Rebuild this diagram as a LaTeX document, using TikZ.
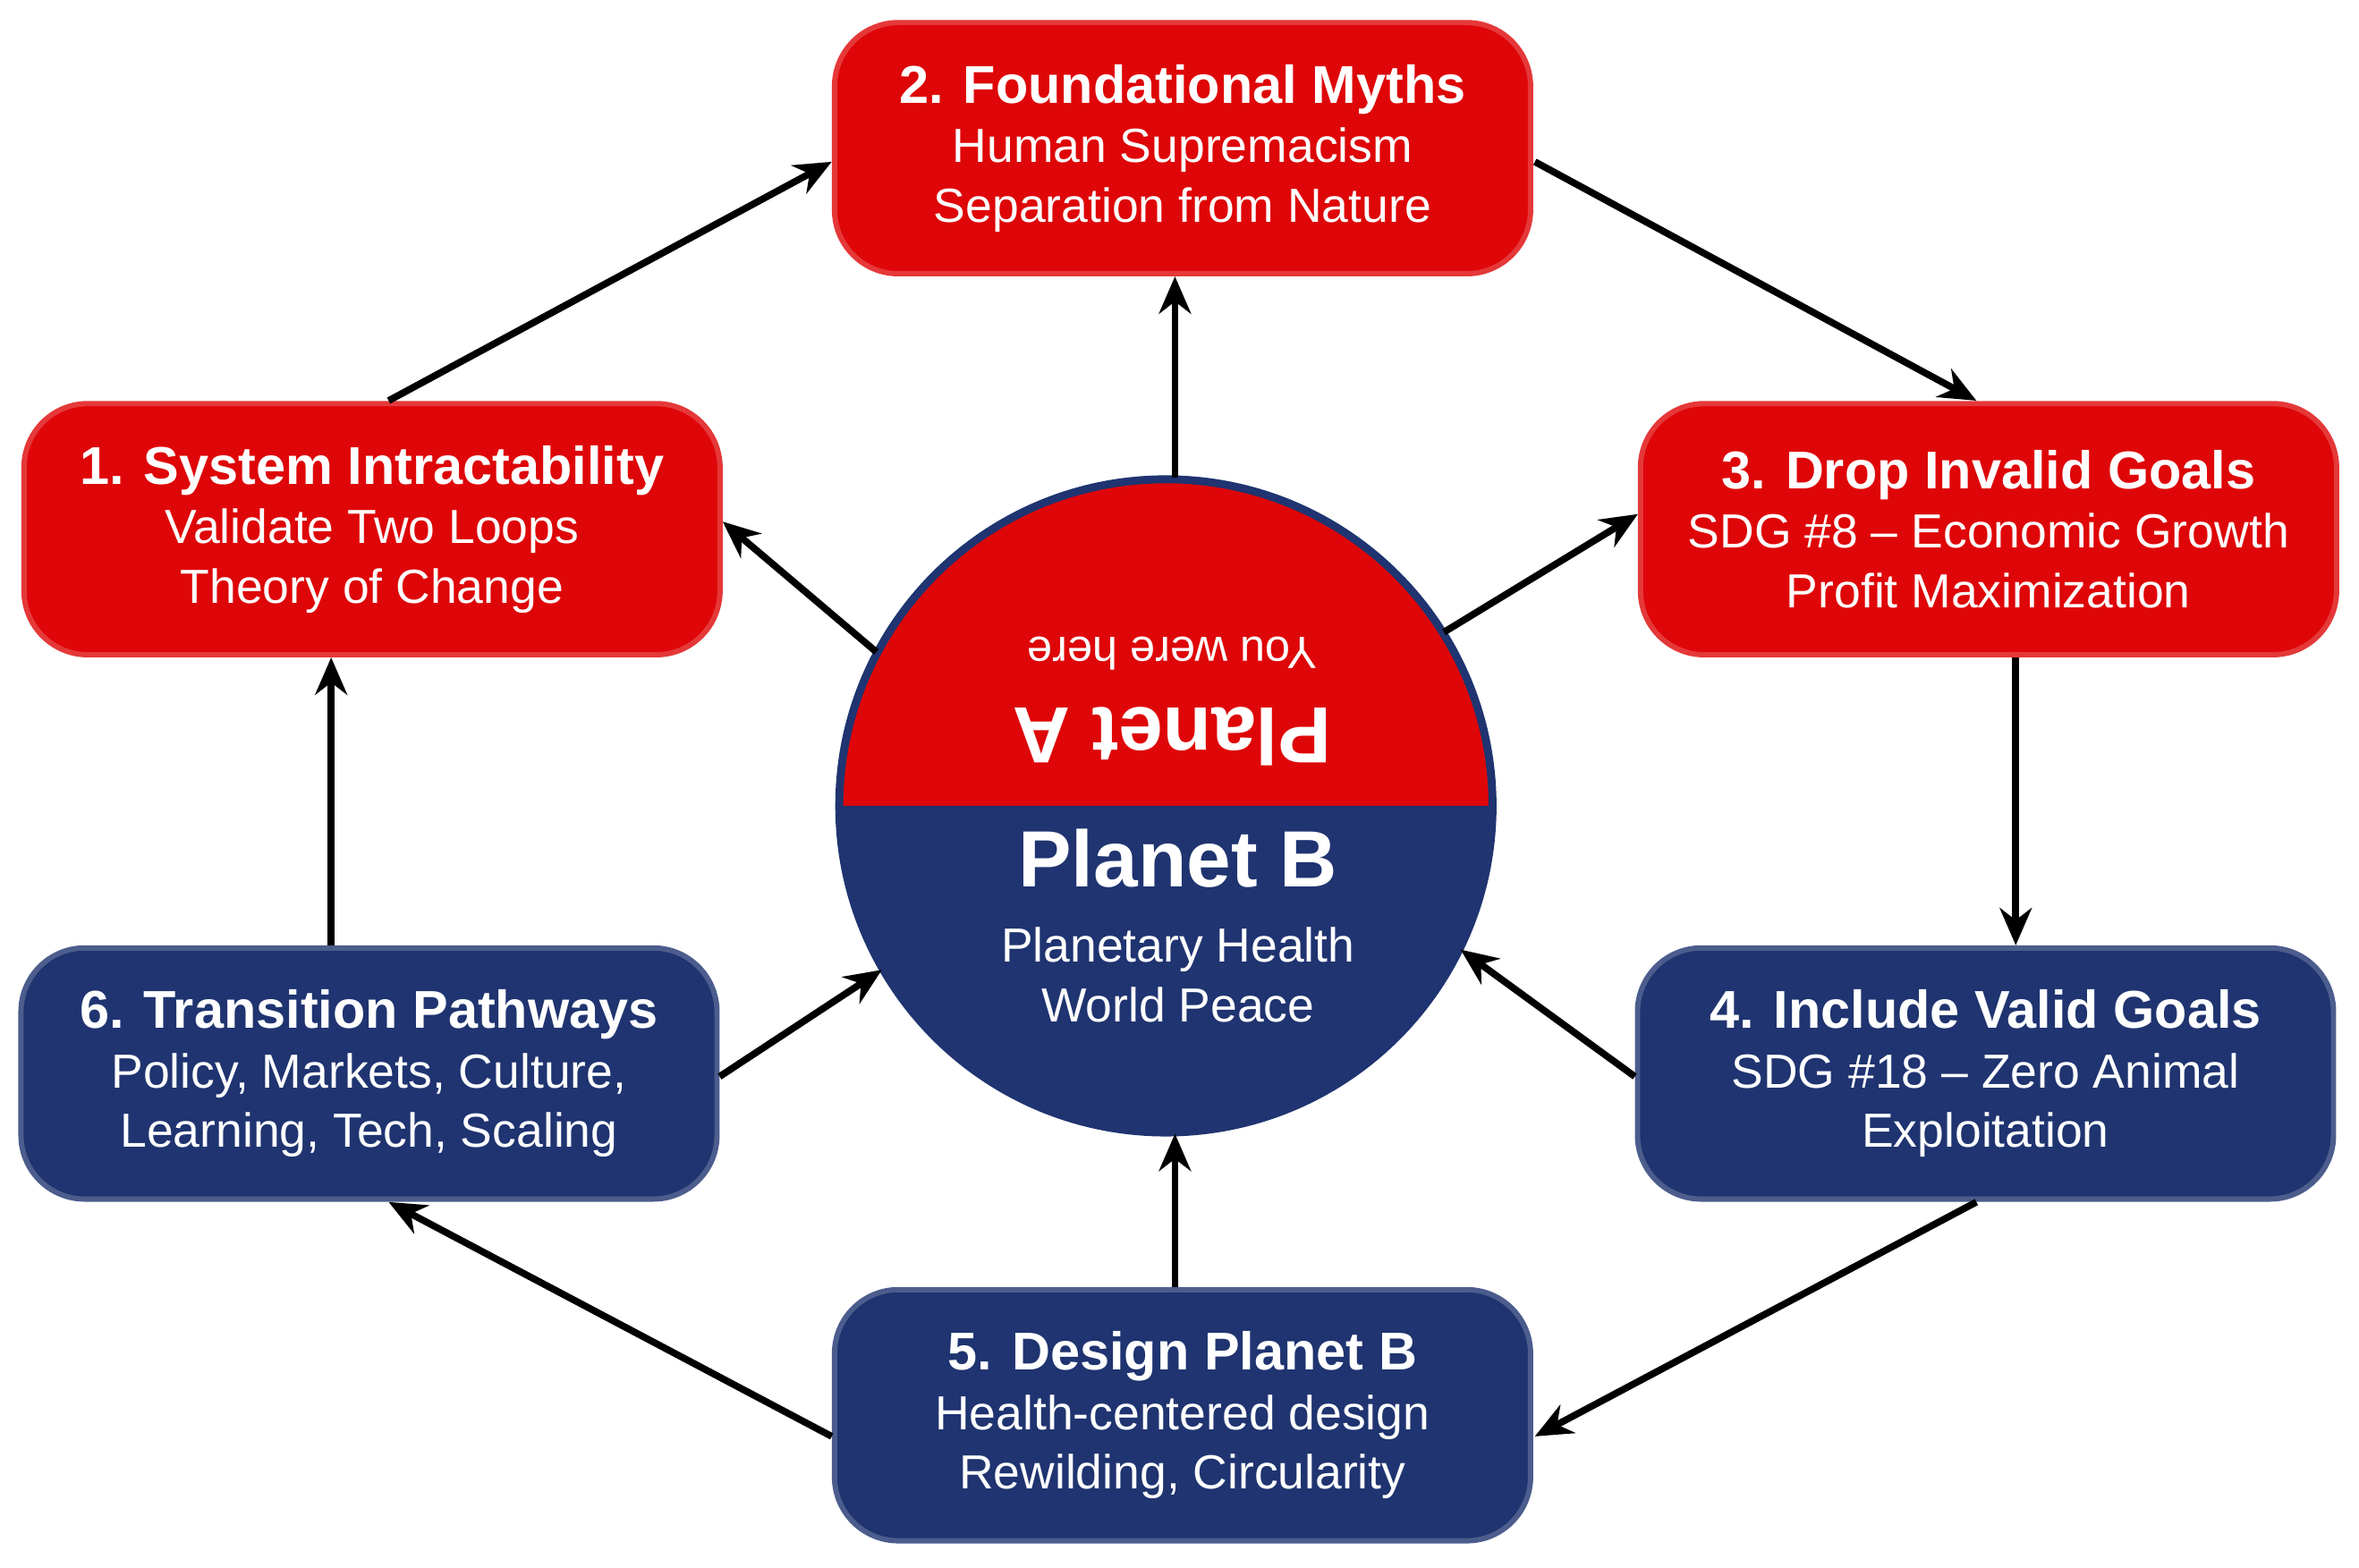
\documentclass[tikz,border=0pt]{standalone}
\usepackage{fontspec}
\setmainfont{Liberation Sans}
\usetikzlibrary{arrows.meta}
\definecolor{pred}{RGB}{222,6,8}
\definecolor{pblue}{RGB}{31,52,112}
\begin{document}
\begin{tikzpicture}[x=0.01cm,y=-0.01cm,
 box/.style={rounded corners=12pt,draw=#1!80!white,line width=1pt,fill=#1,text=white,minimum width=4.6cm,minimum height=1.66cm,align=center,font=\fontsize{9}{11.2}\selectfont},
 arr/.style={-{Stealth[length=7pt,width=6pt]},line width=1.3pt}]
\useasboundingbox (0,0) rectangle (1560,1037);
\node[box=pred] (b2) at (782,98) {{\bfseries\fontsize{10}{12}\selectfont 2. Foundational Myths}\\Human Supremacism\\Separation from Nature};
\node[box=pred] (b1) at (246,350) {{\bfseries\fontsize{10}{12}\selectfont 1. System Intractability}\\Validate Two Loops\\Theory of Change};
\node[box=pred] (b3) at (1315,350) {{\bfseries\fontsize{10}{12}\selectfont 3. Drop Invalid Goals}\\SDG \#8 -- Economic Growth\\Profit Maximization};
\node[box=pblue] (b6) at (244,710) {{\bfseries\fontsize{10}{12}\selectfont 6. Transition Pathways}\\Policy, Markets, Culture,\\Learning, Tech, Scaling};
\node[box=pblue] (b4) at (1313,710) {{\bfseries\fontsize{10}{12}\selectfont 4. Include Valid Goals}\\SDG \#18 -- Zero Animal\\Exploitation};
\node[box=pblue] (b5) at (782,936) {{\bfseries\fontsize{10}{12}\selectfont 5. Design Planet B}\\Health-centered design\\Rewilding, Circularity};
% circle
\fill[pred] (987,533) arc[start angle=0,end angle=-180,radius=216] -- cycle;
\fill[pblue] (555,533) arc[start angle=-180,end angle=-360,radius=216] -- cycle;
\draw[pblue,line width=1.5pt] (771,533) circle[radius=216];
\node[circle,minimum size=4.32cm,inner sep=0] (c) at (771,533) {};
\node[text=white,font=\bfseries\fontsize{15}{18}\selectfont,rotate=180] (pa) at (775,487) {Planet A};
\node[text=white,font=\fontsize{8.5}{10}\selectfont,rotate=180] (yw) at (775,432) {You were here};
\node[text=white,align=center,font=\fontsize{9}{11.2}\selectfont] (pb) at (779,612) {{\bfseries\fontsize{15}{18}\selectfont Planet B}\\[3pt]Planetary Health\\World Peace};
% cycle arrows
\coordinate (a1) at (257,265); \coordinate (a2) at (550,107);
\draw[arr] (a1) -- (a2);
\coordinate (a3) at (1015,107); \coordinate (a4) at (1307,265);
\draw[arr] (a3) -- (a4);
\draw[arr] (b3.south-|1333,0) -- (b4.north-|1333,0);
\coordinate (a5) at (1307,795); \coordinate (a6) at (1015,950);
\draw[arr] (a5) -- (a6);
\coordinate (a7) at (550,950); \coordinate (a8) at (257,795);
\draw[arr] (a7) -- (a8);
\draw[arr] (b6.north-|219,0) -- (b1.south-|219,0);
% spokes
\draw[arr] (c.152) -- (b1.east|-0,345);
\draw[arr] (c.north-|777,0) -- (b2.south-|777,0);
\draw[arr] (c.32) -- (b3.west|-0,340);
\draw[arr] (b4.west|-0,712) -- (c.-26);
\draw[arr] (b5.north-|777,0) -- (c.south-|777,0);
\draw[arr] (b6.east|-0,712) -- (c.-150);
\end{tikzpicture}
\end{document}
